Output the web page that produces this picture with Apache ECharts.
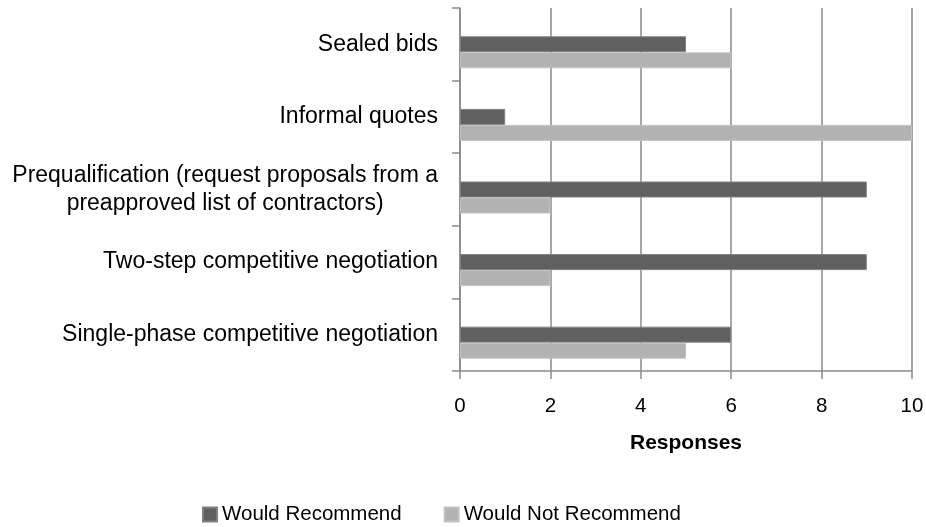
<!DOCTYPE html>
<html>
<head>
<meta charset="utf-8">
<script src="https://cdn.jsdelivr.net/npm/echarts@6/dist/echarts.min.js"></script>
<style>
html,body{margin:0;padding:0;background:#fff;}
#chart{width:926px;height:527px;}
</style>
</head>
<body>
<div id="chart"></div>
<script>
const categories = [
  'Sealed bids',
  'Informal quotes',
  'Prequalification (request proposals from a\npreapproved list of contractors)',
  'Two-step competitive negotiation',
  'Single-phase competitive negotiation'
];
const wouldRecommend = [5, 1, 9, 9, 6];
const wouldNotRecommend = [6, 10, 2, 2, 5];
const spacer = [null, null, null, null, null];
const xTicks = [0, 2, 4, 6, 8, 10];

const FONT = '"Liberation Sans", Arial, sans-serif';
const gridColor = '#8a8a8a';

const chart = echarts.init(document.getElementById('chart'), null, {renderer: 'canvas'});
chart.setOption({
  animation: false,
  backgroundColor: '#ffffff',
  textStyle: {fontFamily: FONT, color: '#000'},
  grid: {left: 460, right: 14, top: 8, bottom: 156, containLabel: false, outerBoundsMode: 'none'},
  legend: {
    data: ['Would Recommend', 'Would Not Recommend'],
    top: 504,
    left: 202,
    icon: 'rect',
    itemWidth: 14,
    itemHeight: 14,
    itemGap: 42,
    padding: 0,
    textStyle: {fontFamily: FONT, fontSize: 20.5, color: '#000'}
  },
  xAxis: {
    type: 'value',
    min: xTicks[0],
    max: xTicks[xTicks.length - 1],
    interval: 2,
    name: 'Responses',
    nameLocation: 'middle',
    nameGap: 62,
    nameTextStyle: {fontFamily: FONT, fontSize: 21, fontWeight: 'bold', color: '#000'},
    axisLine: {show: true, lineStyle: {color: gridColor, width: 1.5}},
    axisTick: {show: true, length: 8, lineStyle: {color: gridColor, width: 1.5}},
    axisLabel: {margin: 25, fontSize: 20.5, color: '#000', fontFamily: FONT},
    splitLine: {show: true, lineStyle: {color: gridColor, width: 1.5}}
  },
  yAxis: {
    type: 'category',
    inverse: true,
    data: categories,
    axisLine: {show: true, lineStyle: {color: gridColor, width: 1.5}},
    axisTick: {show: true, length: 8, lineStyle: {color: gridColor, width: 1.5}},
    splitLine: {show: false},
    axisLabel: {
      margin: 22,
      formatter: function (v) {
        return v.split('\n').map(function (s) { return '{c|' + s + '}'; }).join('\n');
      },
      rich: {
        c: {align: 'center', fontSize: 23, lineHeight: 28, fontFamily: FONT, color: '#000'}
      }
    }
  },
  series: [
    {name: 'spacer', type: 'bar', data: spacer, barWidth: 16, barGap: '0%', silent: true},
    {name: 'Would Recommend', type: 'bar', data: wouldRecommend, barWidth: 16, barGap: '0%',
     itemStyle: {color: '#606060', borderColor: '#808080', borderWidth: 1}},
    {name: 'Would Not Recommend', type: 'bar', data: wouldNotRecommend, barWidth: 16, barGap: '0%',
     itemStyle: {color: '#b2b2b2', borderColor: '#c2c2c2', borderWidth: 1}}
  ]
});
</script>
</body>
</html>
